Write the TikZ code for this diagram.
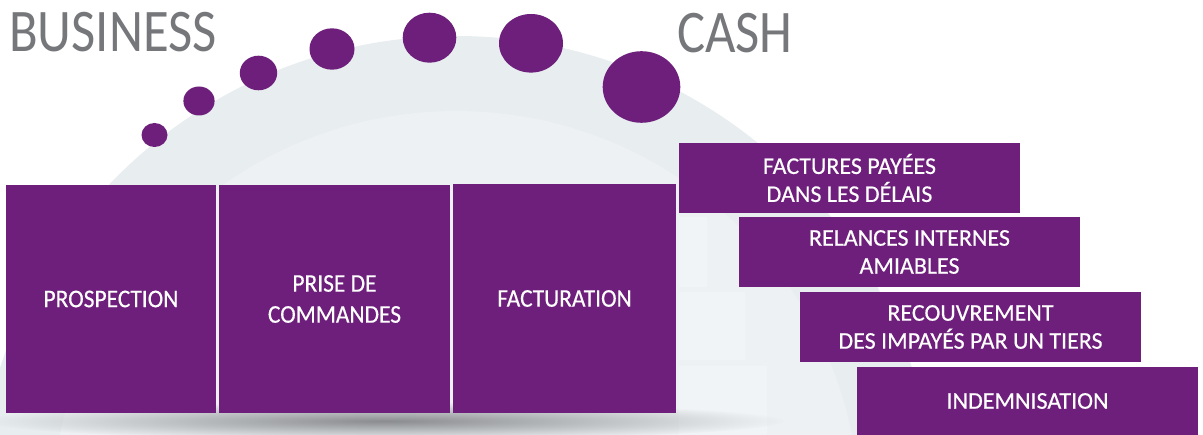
\documentclass[tikz,border=0pt]{standalone}
\usepackage{fontspec}
\setmainfont{Carlito}
\newfontfamily\titlefont{Carlito}[FakeStretch=0.87]
\newfontfamily\mainboxfont{Carlito}[FakeStretch=0.92,FakeBold=0.4]
\newfontfamily\sideboxfont{Carlito}[FakeBold=0.4]
\usetikzlibrary{fadings}
\tikzfading[name=shadowfade, inner color=transparent!0, outer color=transparent!100]
\definecolor{purp}{HTML}{6D1F7B}
\definecolor{titlegray}{HTML}{76777A}
\definecolor{domeA}{HTML}{E8EDF0}
\definecolor{domeB}{HTML}{EDF1F3}
\definecolor{stepgray}{HTML}{F1F4F6}
\definecolor{shadowgray}{HTML}{8A8C90}
\begin{document}
\begin{tikzpicture}[x=1pt,y=-1pt,
  titletext/.style={anchor=base west,inner sep=0pt,text=titlegray,font=\titlefont\fontsize{60.5}{62}\selectfont},
  bigbox/.style={fill=purp,text=white,inner sep=0pt,align=center,font=\mainboxfont\fontsize{25.5}{31}\selectfont,minimum height=228pt},
  sidebox/.style={fill=purp,text=white,inner sep=0pt,align=center,font=\sideboxfont\fontsize{24}{28}\selectfont,minimum width=341pt,minimum height=70pt},
  dot/.style={fill=purp}]
\useasboundingbox (0,0) rectangle (1203,435);
\fill[white] (0,0) rectangle (1203,435);
% background dome
\begin{scope}
\clip (0,0) rectangle (1203,435);
\fill[domeA] (456,515) circle[radius=479];
\fill[domeB] (456,515) circle[radius=404];
\fill[stepgray] (679,217) rectangle (707,287);
\fill[stepgray] (679,292) rectangle (745,360);
\fill[stepgray] (679,366) rectangle (767,435);
\fill[shadowgray,path fading=shadowfade] (385,421) ellipse[x radius=400,y radius=19];
\end{scope}
% titles
\node[titletext] (business) at (9,52) {BUSINESS};
\node[titletext] (cash) at (677,53) {CASH};
% dots
\fill[dot] (154.5,135) ellipse[x radius=13,y radius=12];
\fill[dot] (199,101) ellipse[x radius=15.6,y radius=14.5];
\fill[dot] (258.5,73) ellipse[x radius=18.7,y radius=17.3];
\fill[dot] (332,49) ellipse[x radius=22.5,y radius=20.7];
\fill[dot] (429.5,37.7) ellipse[x radius=26.8,y radius=25];
\fill[dot] (531,43.3) ellipse[x radius=32,y radius=29.3];
\fill[dot] (641.5,87) ellipse[x radius=38.8,y radius=35.8];
% main boxes
\node[bigbox,minimum width=210pt] (prosp) at (111,299) {PROSPECTION};
\node[bigbox,minimum width=231pt] (prise) at (334.5,299) {PRISE DE\\COMMANDES};
\node[bigbox,minimum width=223pt,minimum height=229pt] (fact) at (564.5,298.5) {FACTURATION};
% side boxes
\node[sidebox] (payees) at (849.5,178) {FACTURES PAYÉES\\DANS LES DÉLAIS};
\node[sidebox] (relances) at (909.5,252) {RELANCES INTERNES\\AMIABLES};
\node[sidebox] (recouv) at (970.5,327) {RECOUVREMENT\\DES IMPAYÉS PAR UN TIERS};
\node[sidebox,minimum height=68pt] (indem) at (1027.5,401) {INDEMNISATION};
\end{tikzpicture}
\end{document}
